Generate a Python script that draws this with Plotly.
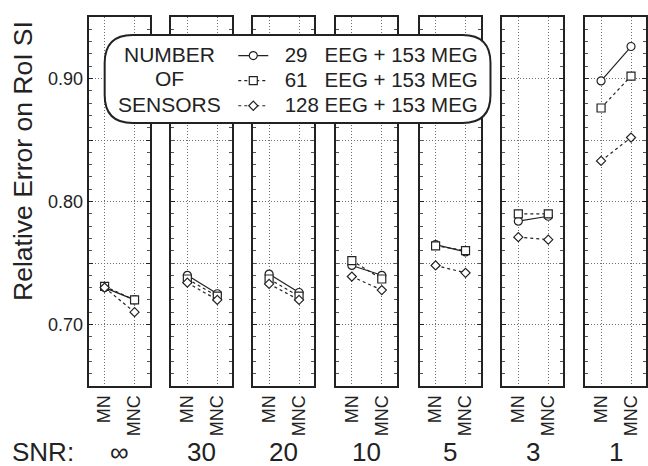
import plotly.graph_objects as go

# ---------------- data ----------------
snr_labels = ["\u221e", "30", "20", "10", "5", "3", "1"]
methods = ["MN", "MNC"]

series_names = [
    "29\u00a0\u00a0\u00a0EEG + 153 MEG",
    "61\u00a0\u00a0\u00a0EEG + 153 MEG",
    "128\u00a0EEG + 153 MEG",
]
legend_title_lines = ["NUMBER", "OF", "SENSORS"]
err_29_mn = [0.730, 0.740, 0.741, 0.748, 0.765, 0.784, 0.898]
err_29_mnc = [0.720, 0.725, 0.726, 0.740, 0.759, 0.788, 0.926]
err_61_mn = [0.731, 0.737, 0.737, 0.752, 0.764, 0.790, 0.876]
err_61_mnc = [0.720, 0.723, 0.723, 0.737, 0.760, 0.790, 0.902]
err_128_mn = [0.730, 0.734, 0.733, 0.739, 0.748, 0.771, 0.833]
err_128_mnc = [0.710, 0.720, 0.720, 0.728, 0.742, 0.769, 0.852]

y_tickvals = [0.70, 0.75, 0.80, 0.85, 0.90]
y_ticktext = ["0.70", "", "0.80", "", "0.90"]

# ---------------- style ----------------
W, H = 648, 466
FONT = "Liberation Sans, Arial, sans-serif"
INK = "#222222"
GRID = "#6e6e6e"
GRID_DASH = "1px,2px"
styles = [
    dict(symbol="circle", size=8, dash="solid"),
    dict(symbol="square", size=8, dash="dot"),
    dict(symbol="diamond", size=7, dash="dot"),
]
series_mn = [err_29_mn, err_61_mn, err_128_mn]
series_mnc = [err_29_mnc, err_61_mnc, err_128_mnc]

panel_left_px = [89, 172, 254, 337, 421, 504, 587]
panel_w_px = 61
top_px, bottom_px = 17, 386


def px_x(px):
    return px / W


def px_y(py):
    return 1 - py / H


fig = go.Figure()
n = len(snr_labels)
for i in range(n):
    ax = "" if i == 0 else str(i + 1)
    for s in range(3):
        st = styles[s]
        fig.add_trace(go.Scatter(
            x=methods,
            y=[series_mn[s][i], series_mnc[s][i]],
            mode="lines+markers",
            name='<span style="font-size:20.5px">\u00a0\u00a0' + series_names[s] + "</span>",
            legendgroup=series_names[s],
            showlegend=(i == 0),
            xaxis="x" + ax, yaxis="y" + ax,
            line=dict(color=INK, width=1.2, dash=st["dash"]),
            marker=dict(symbol=st["symbol"], size=st["size"], color="white",
                        line=dict(color=INK, width=1.2)),
        ))
    x0 = px_x(panel_left_px[i])
    x1 = px_x(panel_left_px[i] + panel_w_px)
    xa = dict(
        domain=[x0, min(x1, 1.0)], anchor="y" + ax,
        type="category", categoryorder="array", categoryarray=methods,
        range=[-0.53, 1.5],
        tickvals=methods, ticktext=methods, tickangle=-90,
        tickfont=dict(family=FONT, size=18, color=INK),
        ticks="", showgrid=True, gridcolor=GRID, griddash=GRID_DASH, gridwidth=1,
        showline=True, linecolor=INK, linewidth=2, mirror=True,
        zeroline=False, fixedrange=True,
    )
    ya = dict(
        domain=[px_y(bottom_px), px_y(top_px)], anchor="x" + ax,
        range=[0.65, 0.95],
        tickvals=y_tickvals, ticktext=y_ticktext,
        tickfont=dict(family=FONT, size=18, color=INK),
        showticklabels=(i == 0),
        ticks="inside", ticklen=4, tickcolor=INK, tickwidth=1,
        minor=dict(dtick=0.01, tick0=0.0, ticks="inside", ticklen=3,
                   tickcolor="#555555", tickwidth=1, showgrid=False),
        showgrid=True, gridcolor=GRID, griddash=GRID_DASH, gridwidth=1,
        showline=True, linecolor=INK, linewidth=2, mirror="allticks",
        zeroline=False, fixedrange=True,
    )
    fig.layout["xaxis" + ax] = xa
    fig.layout["yaxis" + ax] = ya
    # SNR value under each panel
    fig.add_annotation(
        x=0.5, xref=("x" + ax + " domain"), y=px_y(452), yref="paper",
        text=snr_labels[i], showarrow=False,
        font=dict(family=FONT, size=26, color=INK),
        xanchor="center", yanchor="middle",
    )

fig.add_annotation(x=px_x(10), y=px_y(452), xref="paper", yref="paper",
                   text="SNR:", showarrow=False, xanchor="left", yanchor="middle",
                   font=dict(family=FONT, size=26, color=INK))
fig.add_annotation(x=px_x(23), y=px_y(161), xref="paper", yref="paper",
                   text="Relative Error on RoI SI", showarrow=False, textangle=-90,
                   xanchor="center", yanchor="middle",
                   font=dict(family=FONT, size=26.5, color=INK))


# rounded legend box
def rounded_path(x0, y0, x1, y1, r):
    X = px_x
    Y = px_y
    pts = [
        f"M {X(x0 + r)} {Y(y0)}",
        f"L {X(x1 - r)} {Y(y0)}",
        f"Q {X(x1)} {Y(y0)} {X(x1)} {Y(y0 + r)}",
        f"L {X(x1)} {Y(y1 - r)}",
        f"Q {X(x1)} {Y(y1)} {X(x1 - r)} {Y(y1)}",
        f"L {X(x0 + r)} {Y(y1)}",
        f"Q {X(x0)} {Y(y1)} {X(x0)} {Y(y1 - r)}",
        f"L {X(x0)} {Y(y0 + r)}",
        f"Q {X(x0)} {Y(y0)} {X(x0 + r)} {Y(y0)}",
        "Z",
    ]
    return " ".join(pts)


fig.add_shape(type="path", xref="paper", yref="paper",
              path=rounded_path(105, 35, 492, 123, 28),
              fillcolor="white", line=dict(color=INK, width=2), layer="above")

for k, line_txt in enumerate(legend_title_lines):
    fig.add_annotation(x=px_x(170), y=px_y(54 + 25 * k), xref="paper", yref="paper",
                       text=line_txt, showarrow=False, align="center",
                       xanchor="center", yanchor="middle",
                       font=dict(family=FONT, size=21, color=INK))

fig.update_layout(
    width=W, height=H,
    margin=dict(l=0, r=0, t=0, b=0),
    paper_bgcolor="white", plot_bgcolor="white",
    showlegend=True,
    legend=dict(x=px_x(234), y=px_y(38), xanchor="left", yanchor="top",
                bgcolor="rgba(0,0,0,0)", borderwidth=0,
                font=dict(family=FONT, size=17, color=INK),
                traceorder="normal", itemclick=False, itemdoubleclick=False),
    font=dict(family=FONT, color=INK),
)

fig.write_html("out.html", config={"displayModeBar": False},
               post_script="document.body.style.margin='0';")
